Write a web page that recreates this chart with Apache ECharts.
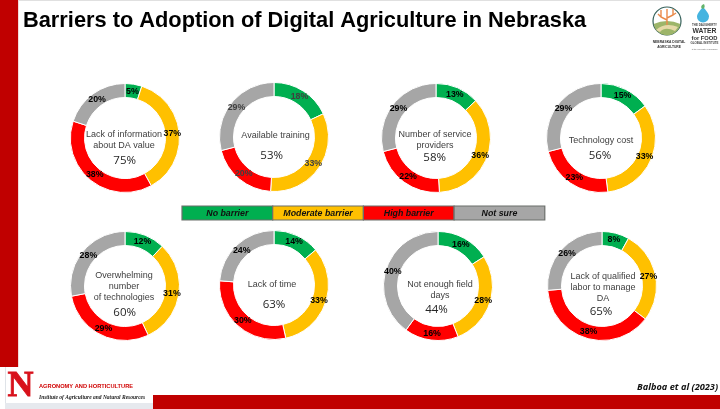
<!DOCTYPE html>
<html><head><meta charset="utf-8">
<style>html,body{margin:0;padding:0;background:#fff}#c{width:720px;height:409px}</style>
<script src="https://cdn.jsdelivr.net/npm/echarts@6/dist/echarts.min.js"></script>
</head><body><div id="c"></div>
<script>
var categories = ['No barrier','Moderate barrier','High barrier','Not sure'];
var colors = ['#00AF50','#FFC000','#FF0000','#A6A6A6'];
var barrierNames = ['Lack of information\nabout DA value','Available training','Number of service\nproviders','Technology cost','Overwhelming\nnumber\nof technologies','Lack of time','Not enough field\ndays','Lack of qualified\nlabor to manage\nDA'];
var barrierTotals = ['75%','53%','58%','56%','60%','63%','44%','65%'];
var noBarrier = [5,18,13,15,12,14,16,8];
var moderateBarrier = [37,33,36,33,31,33,28,27];
var highBarrier = [38,20,22,23,29,30,16,38];
var notSure = [20,29,29,29,28,24,40,26];
var titleText = 'Barriers to Adoption of Digital Agriculture in Nebraska';
var citation = 'Balboa et al (2023)';

var centers = [[125,138],[274,137],[436,138],[601,138],[125,286],[274,285],[438,286],[602,286]];
var namePos = [[124,140.5],[275.5,136],[435,140],[601,140.5],[124,286.5],[272,285],[440,290],[603,288]];
var totalPos = [[124.7,161],[271.7,156],[434.7,158],[600,156],[124.7,313],[274,305],[436.5,310],[601,311.5]];
var labelColor = ['#000','#404040','#000','#000','#000','#000','#000','#000'];
var series = [], graphic = [];
var font = 'Liberation Sans, Arial, sans-serif';

function rect(x,y,w,h,fill){return {type:'rect',shape:{x:x,y:y,width:w,height:h},style:{fill:fill},silent:true};}
function txt(x,y,t,size,fill,opts){opts=opts||{};return {type:'text',x:x,y:y,z:opts.z||10,silent:true,style:{text:t,font:(opts.style||'')+' '+(opts.weight||'normal')+' '+size+'px '+(opts.family||font),fill:fill,stroke:opts.stroke||null,lineWidth:opts.lw||0,align:opts.align||'center',verticalAlign:opts.va||'middle',lineHeight:opts.lh||undefined}};}
var pathCount=0;
function path(d,fill,stroke,lw){
  var name='logoPath'+(pathCount++);
  echarts.graphic.registerShape(name,echarts.graphic.extendPath(d,{}));
  return {type:name,silent:true,z:5,style:{fill:fill||null,stroke:stroke||null,lineWidth:lw||0}};
}

// Page furniture
graphic.push(rect(19,0,701,1,'#e0e0e0'));
graphic.push(rect(0,0,18,367,'#C00000'));
graphic.push(rect(18,0,1,367,'#f3d9d9'));
graphic.push(rect(5,367,1,37,'#dfe3e8'));
graphic.push(rect(5,403,148,6,'#e6e9ee'));
graphic.push(rect(153,395,567,14,'#C00000'));

// Title
graphic.push(txt(23,21,titleText,21.8,'#000',{align:'left',weight:'bold'}));

// Legend bar
var lx=182, lw=90.7;
categories.forEach(function(c,i){
  graphic.push({type:'rect',shape:{x:lx+i*lw,y:206,width:lw,height:14},style:{fill:colors[i],stroke:'#6b6f6b',lineWidth:1.2},silent:true});
  graphic.push(txt(lx+i*lw+lw/2,213.5,c,8.8,'#111',{style:'italic',weight:'bold'}));
});

// Citation
graphic.push(txt(718,387,citation,9.2,'#111',{align:'right',style:'italic',weight:'bold',family:'Open Sans, sans-serif'}));

// Nebraska N logo and text
graphic.push(txt(20.5,387,'N',36,'#D8111B',{weight:'bold',family:'Liberation Serif, serif',stroke:'#D8111B',lw:0.8}));
graphic.push(txt(39,386.7,'AGRONOMY AND HORTICULTURE',5.7,'#D00000',{align:'left',weight:'bold',family:'Liberation Sans Narrow, Liberation Sans, sans-serif'}));
graphic.push(txt(39,397.5,'Institute of Agriculture and Natural Resources',5.5,'#222',{align:'left',style:'italic',weight:'bold',family:'Liberation Serif, serif'}));

// Digital agriculture logo
graphic.push({type:'circle',z:4,silent:true,shape:{cx:667,cy:21,r:14},style:{fill:'#fff',stroke:'#35605a',lineWidth:1.2}});
graphic.push(path('M653.6,24 Q667,18 680.4,24 A13.6,13.6 0 0 1 653.6,24 Z','#9db56a'));
graphic.push(path('M656,30 Q665,22 678,27 L675,31 Q665,26 660,32 Z','#e6d9a8'));
graphic.push(path('M667,25 L667,9 M667,20 L661,17 L661,10 M667,18 L673,15 L673,9 M661,17 L658,14 M673,15 L676,13',null,'#ea8a4a',1.4));
graphic.push(txt(669,41.7,'NEBRASKA DIGITAL',3.3,'#333',{weight:'bold'}));
graphic.push(txt(669,46.7,'AGRICULTURE',3.3,'#333',{weight:'bold'}));

// Water for Food logo
graphic.push(path('M703,7 C703,7 697,13 697,16.5 A6,6 0 0 0 709,16.5 C709,13 703,7 703,7 Z','#45b4e0'));
graphic.push(path('M703,9 C700,8 701,5 704,4 C705,6 705,8 703,9 Z','#63b36b'));
graphic.push(txt(704.5,25.3,'THE DAUGHERTY',2.9,'#444',{weight:'bold'}));
graphic.push(txt(704.5,31.5,'WATER',6.8,'#333',{weight:'bold'}));
graphic.push(txt(704.5,38.7,'for FOOD',5.8,'#333',{weight:'bold'}));
graphic.push(txt(704.5,43.5,'GLOBAL INSTITUTE',2.9,'#444',{weight:'bold'}));
graphic.push(txt(704.5,49,'at the University of Nebraska',2,'#666',{}));

// Donuts
barrierNames.forEach(function(n,i){
  var vals=[noBarrier[i],moderateBarrier[i],highBarrier[i],notSure[i]];
  var c=centers[i];
  series.push({type:'pie',silent:true,animation:false,center:c,radius:[40.5,54.5],startAngle:90,clockwise:true,avoidLabelOverlap:false,
    itemStyle:{borderColor:'#fff',borderWidth:1},
    label:{show:true,position:'inside',formatter:'{c}%',fontSize:8.8,fontWeight:'bold',color:labelColor[i],fontFamily:font},
    labelLine:{show:false},
    labelLayout:function(p){
      var r=p.labelRect, x=r.x+r.width/2-c[0], y=r.y+r.height/2-c[1], d=Math.sqrt(x*x+y*y)||1, k=47.5/d;
      return {x:c[0]+x*k,y:c[1]+y*k,align:'center',verticalAlign:'middle'};
    },
    data:vals.map(function(v,j){return {name:categories[j],value:v,itemStyle:{color:colors[j]}};})});
  graphic.push(txt(namePos[i][0],namePos[i][1],n,9,'#404040',{lh:11}));
  graphic.push(txt(totalPos[i][0],totalPos[i][1],barrierTotals[i],11.5,'#262626',{family:'Open Sans, sans-serif'}));
});

var chart = echarts.init(document.getElementById('c'),null,{renderer:'canvas'});
chart.setOption({animation:false,backgroundColor:'#fff',series:series,graphic:graphic});
</script></body></html>
